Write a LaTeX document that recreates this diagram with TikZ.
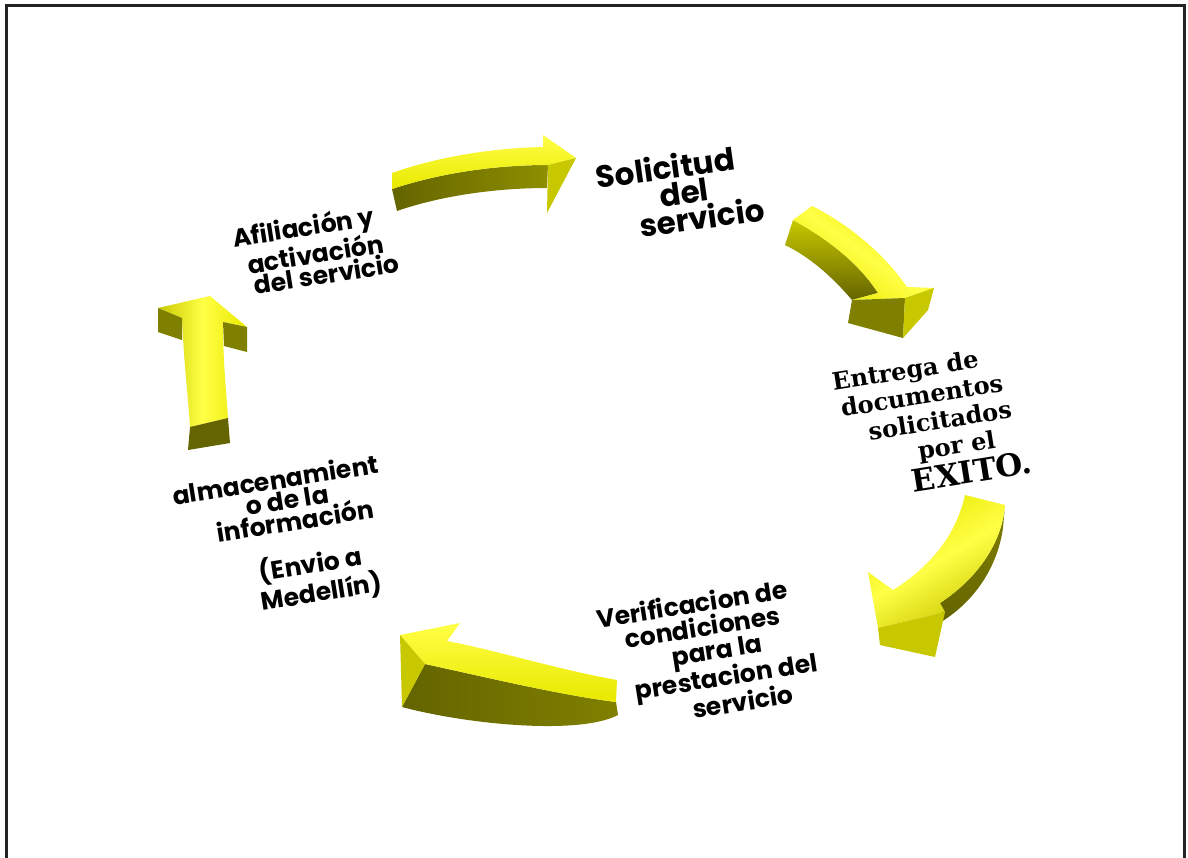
\documentclass[tikz,border=0pt]{standalone}
\usepackage{fontspec}
\newfontfamily\gothic{Poppins}
\newfontfamily\oldserif{DejaVu Serif}
\definecolor{yhi}{RGB}{255,255,70}
\definecolor{ytop}{RGB}{232,232,0}
\definecolor{ymid}{RGB}{200,200,0}
\definecolor{ydark}{RGB}{128,128,0}
\definecolor{ydeep}{RGB}{100,100,0}
\definecolor{framegray}{RGB}{35,35,35}
\begin{document}
\begin{tikzpicture}[x=1pt,y=-1pt,
  glab/.style={font=\gothic\bfseries\fontsize{25}{21.8}\selectfont, inner sep=0pt, align=center, rotate=9},
  vlab/.style={font=\gothic\bfseries\fontsize{25}{24.5}\selectfont, inner sep=0pt, align=center, rotate=9},
  gbig/.style={font=\gothic\bfseries\fontsize{31}{27.3}\selectfont, inner sep=0pt, align=center, rotate=8},
  slab/.style={font=\oldserif\bfseries\fontsize{24}{27.3}\selectfont, inner sep=0pt, align=center, rotate=9},
  side/.style={fill=ydark},
  front/.style={fill=ymid},
  tail/.style={fill=ydeep}]
\useasboundingbox (0,0) rectangle (1188,857);
\fill[white] (0,0) rectangle (1188,857);
\draw[framegray, line width=2.5pt] (6.5,860) -- (6.5,5.5) -- (1184.5,5.5) -- (1184.5,860);

% ---------- arrow 1 (top, to the right)
\shade[left color=ydeep, right color=ydark!80!ymid] (392,189) .. controls (440,173) and (495,165) .. (548,165) -- (547,188) .. controls (495,188) and (440,196) .. (397,211) -- cycle;
\shade[top color=yhi, bottom color=ytop] (392,173) .. controls (440,156) and (495,148) .. (543,147) -- (543,135) -- (576,158) -- (548,165) .. controls (495,165) and (440,173) .. (392,189) -- cycle;
\fill[front] (576,158) -- (547,213) -- (548,165) -- cycle;

% ---------- arrow 2 (upper right, down-right)
\shade[top color=ymid, bottom color=ydeep] (793,220) .. controls (830,240) and (860,265) .. (878,293) -- (852,300) .. controls (835,280) and (812,258) .. (785,245) -- cycle;
\shade[left color=ytop, right color=ytop, middle color=yhi, shading angle=-35] (793,220) -- (812,206) .. controls (850,225) and (885,255) .. (907,287) -- (934,288) -- (905,298) -- (852,300) -- (878,293) .. controls (860,265) and (830,240) .. (793,220) -- cycle;
\fill[side] (852,300) -- (905,298) -- (903,338) -- (848,323) -- cycle;
\fill[front] (905,298) -- (934,288) -- (928,310) -- (903,338) -- cycle;

% ---------- arrow 3 (lower right, down-left)
\shade[top color=ydark, bottom color=ydeep] (1005,505) .. controls (1002,545) and (975,580) .. (940,603) -- (941,622) .. controls (972,603) and (997,570) .. (1003,528) -- cycle;
\shade[left color=ytop, right color=ymid, middle color=yhi, shading angle=30] (965,495) -- (1005,505) .. controls (1002,545) and (975,580) .. (940,603) -- (945,612) -- (878,628) -- (868,572) -- (893,590) .. controls (925,570) and (955,540) .. (965,495) -- cycle;
\fill[front] (878,628) -- (945,612) -- (935,657) -- (880,645) -- cycle;

% ---------- arrow 4 (bottom, to the left)
\shade[left color=ydeep, right color=ydark] (425,664) .. controls (485,677) and (560,695) .. (616,702) -- (618,715) .. controls (580,735) and (470,725) .. (402,707) -- cycle;
\shade[top color=yhi, bottom color=ytop] (400,635) -- (460,623) -- (447,641) .. controls (495,650) and (560,670) .. (617,680) -- (616,702) .. controls (560,695) and (485,677) .. (425,664) -- cycle;
\fill[front] (400,635) -- (425,664) -- (402,707) -- cycle;

% ---------- arrow 5 (left, upwards)
\shade[left color=ymid, right color=ytop, middle color=yhi] (158,308) -- (210,296) -- (247,327) -- (223,322) .. controls (223,360) and (226,390) .. (228,418) -- (190,427) .. controls (188,395) and (184,365) .. (182,318) -- cycle;
\fill[side] (158,308) -- (182,318) -- (182,340) -- (158,332) -- cycle;
\fill[side] (223,322) -- (247,327) -- (247,352) -- (224,346) -- cycle;
\fill[tail] (190,427) -- (228,418) -- (230,443) -- (188,450) -- cycle;

% ---------- labels
\node[gbig] (sol) at (669,194) {Solicitud\\\hspace*{30pt}del\\\hspace*{59pt}servicio};

\node[slab] (ent) at (914,426) {Entrega de\\\hspace*{25pt}documentos\\\hspace*{53pt}solicitados\\\hspace*{78pt}por el\\[2pt]\hspace*{100pt}{\fontsize{31}{31}\selectfont EXITO.}};

\node[vlab] (ver) at (700,655) {Verificacion de\\\hspace*{14pt}condiciones\\\hspace*{35pt}para la\\\hspace*{45pt}prestacion del\\\hspace*{70pt}servicio};

\node[glab] (alm) at (285,540) {almacenamient\\\hspace*{17pt}o de la\\\hspace*{26pt}información\\[21pt]\hspace*{43pt}(Envio a\\\hspace*{56pt}Medellín)};

\node[glab] (afi) at (307,251) {Afiliación y\\\hspace*{16pt}activación\\\hspace*{32pt}del servicio};
\end{tikzpicture}
\end{document}
